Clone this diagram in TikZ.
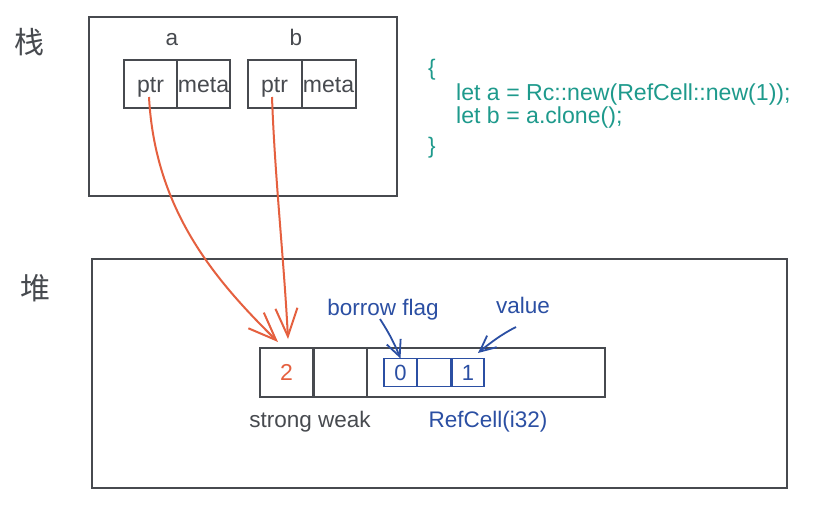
\documentclass[tikz,border=0pt]{standalone}
\usepackage{fontspec}
\setmainfont{Liberation Sans}
\newfontfamily\cjk{Noto Sans CJK SC}
\usetikzlibrary{arrows.meta}
\definecolor{dk}{HTML}{474A4F}
\definecolor{rd}{HTML}{E5603F}
\definecolor{bl}{HTML}{2B4FA3}
\definecolor{tl}{HTML}{1E9A8C}
\tikzset{
  frame/.style={draw=dk, line width=2pt, inner sep=0pt, outer sep=0pt},
  cell/.style={draw=dk, line width=2pt, inner sep=0pt, outer sep=0pt, minimum height=48pt, text=dk, font=\fontsize{23}{27}\selectfont, text height=16pt, text depth=0pt},
  bcell/.style={draw=bl, line width=1.8pt, inner sep=0pt, outer sep=0pt, minimum height=28pt, minimum width=33pt, text=bl, font=\fontsize{22}{26}\selectfont, text height=16pt, text depth=0pt},
  lbl/.style={inner sep=0pt, text=dk, font=\fontsize{22.5}{27}\selectfont, text height=16pt, text depth=5pt},
  blbl/.style={lbl, text=bl},
  code/.style={lbl, text=tl, anchor=west, font=\fontsize{23.1}{27}\selectfont},
  han/.style={inner sep=0pt, text=dk, font=\cjk\fontsize{30}{34}\selectfont},
  ptrarrow/.style={draw=rd, line width=2pt, -{Straight Barb[length=28pt,width=22pt,line width=2pt]}},
  blarrow/.style={draw=bl, line width=1.8pt, -{Straight Barb[length=16pt,width=15pt,line width=1.8pt]}}
}
\begin{document}
\begin{tikzpicture}[x=1pt,y=-1pt]
\useasboundingbox[fill=white] (0,0) rectangle (815,507);
% frames
\node[frame, minimum width=308pt, minimum height=179pt] (stack) at (243,106.5) {};
\node[frame, minimum width=695pt, minimum height=229pt] (heap) at (439.5,373.5) {};
\node[han] (zhan) at (30,42) {栈};
\node[han] (dui) at (35,288) {堆};
% stack cells
\node[lbl] (la) at (172,40) {a};
\node[lbl] (lb) at (296,40) {b};
\node[cell, minimum width=53pt] (aptr) at (150.5,84) {ptr};
\node[cell, minimum width=53pt] (ameta) at (203.5,84) {meta};
\node[cell, minimum width=54pt] (bptr) at (274.5,84) {ptr};
\node[cell, minimum width=54pt] (bmeta) at (328.5,84) {meta};
\coordinate (as) at (149,97);
\coordinate (bs) at (272,97);
% code
\node[lbl, text=tl] (ob) at (432,70) {\{};
\node[code] (c1) at (456,94.5) {let a = Rc::new(RefCell::new(1));};
\node[code] (c2) at (456,117.5) {let b = a.clone();};
\node[lbl, text=tl] (cb) at (432,148) {\}};
% heap row
\node[cell, minimum width=54pt, minimum height=49pt, text=rd] (strong) at (286.5,372.5) {2};
\node[cell, minimum width=54pt, minimum height=49pt] (weak) at (340,372.5) {};
\node[cell, minimum width=238pt, minimum height=49pt] (refcell) at (486,372.5) {};
\node[bcell] (flag) at (400.5,372.5) {0};
\node[bcell] (gap) at (434,372.5) {};
\node[bcell, minimum width=32pt] (val) at (468,372.5) {1};
\node[lbl] (sw) at (310,422) {strong weak};
\node[blbl] (rc) at (488,422) {RefCell(i32)};
\node[blbl] (bf) at (383,309.5) {borrow flag};
\node[blbl] (vl) at (523,307.5) {value};
% arrows
\coordinate (at) at (278,342);
\coordinate (bt) at (288,339);
\draw[ptrarrow] (as) .. controls (155,210) and (215,280) .. (at);
\draw[ptrarrow] (bs) .. controls (275,180) and (284,260) .. (bt);
\coordinate (bfs) at (380,319);
\coordinate (vls) at (516,327);
\coordinate (vlt) at (478,353);
\draw[blarrow] (bfs) .. controls (387,330) and (393,340) .. (flag.north);
\draw[blarrow] (vls) .. controls (502,334) and (490,343) .. (vlt);
\end{tikzpicture}
\end{document}
